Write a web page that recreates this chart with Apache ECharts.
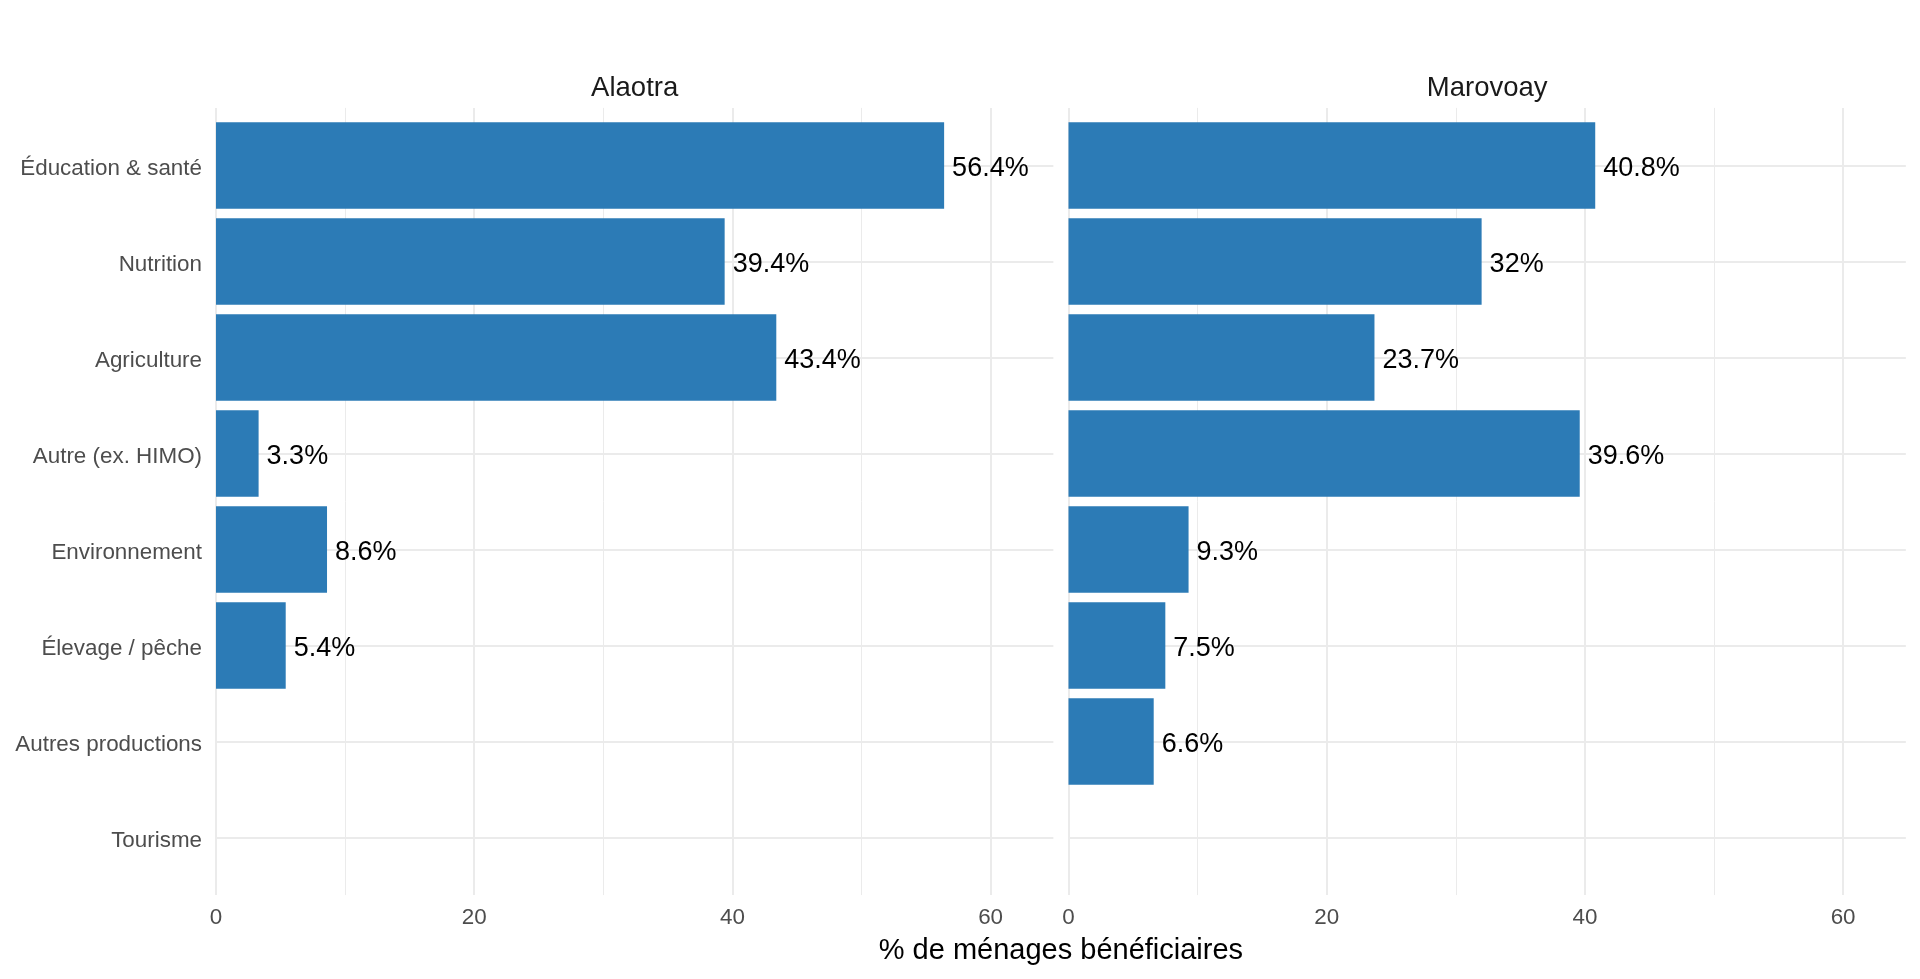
<!DOCTYPE html>
<html>
<head>
<meta charset="utf-8">
<script src="https://cdn.jsdelivr.net/npm/echarts@6/dist/echarts.min.js"></script>
<style>
html,body{margin:0;padding:0;background:#fff;}
#chart{width:1920px;height:979px;}
</style>
</head>
<body>
<div id="chart"></div>
<script>
// ---- Data ----
const categories = ['Éducation & santé','Nutrition','Agriculture','Autre (ex. HIMO)','Environnement','Élevage / pêche','Autres productions','Tourisme'];
const panelNames = ['Alaotra','Marovoay'];
const alaotraValues = [56.4, 39.4, 43.4, 3.3, 8.6, 5.4, null, null];
const marovoayValues = [40.8, 32, 23.7, 39.6, 9.3, 7.5, 6.6, null];
const xTicks = [0, 20, 40, 60];
const xAxisTitle = '% de ménages bénéficiaires';

// ---- Layout ----
const FONT = '"Liberation Sans", Arial, sans-serif';
const unitX = 12.91;          // px per percentage point
const xMax = 64.86;           // panel range (0 .. max*1.15)
const panelW = xMax * unitX;
const panelLeft = [216, 1068.5];
const catUnit = 96;           // px per category
const firstCenter = 165.5;
const nCat = categories.length;
const panelTop = firstCenter - 0.6 * catUnit;
const panelH = (nCat - 1 + 1.2) * catUnit;
const barColor = '#2c7bb6';
const gridColor = '#ebebeb';
const valuesByPanel = [alaotraValues, marovoayValues];

const grids = [], xAxes = [], yAxes = [], series = [], titles = [];

panelLeft.forEach((L, p) => {
  const base = grids.length;
  grids.push({left: L, top: firstCenter - catUnit / 2, width: panelW, height: nCat * catUnit, containLabel: false});
  grids.push({left: L, top: firstCenter, width: panelW, height: (nCat - 1) * catUnit, containLabel: false});
  grids.push({left: L, top: panelTop, width: 60 * unitX, height: panelH, containLabel: false});

  xAxes.push({gridIndex: base, type: 'value', min: 0, max: xMax, show: false});
  yAxes.push({gridIndex: base, type: 'category', data: categories, inverse: true, show: false});

  xAxes.push({gridIndex: base + 1, type: 'value', min: 0, max: 1, show: false});
  yAxes.push({
    gridIndex: base + 1, type: 'category', data: categories, inverse: true, boundaryGap: false,
    axisLine: {show: false}, axisTick: {show: false},
    axisLabel: {show: p === 0, interval: 0, margin: 14, fontSize: 22.4, color: '#4d4d4d', fontFamily: FONT,
      verticalAlign: 'top', lineHeight: 6},
    splitLine: {show: true, interval: 0, lineStyle: {color: gridColor, width: 2}}
  });

  xAxes.push({
    gridIndex: base + 2, type: 'value', min: xTicks[0], max: xTicks[xTicks.length - 1], interval: 20,
    axisLine: {show: false}, axisTick: {show: false},
    axisLabel: {show: true, margin: 12, fontSize: 22.4, color: '#4d4d4d', fontFamily: FONT},
    splitLine: {show: true, lineStyle: {color: gridColor, width: 2}},
    minorTick: {show: false, splitNumber: 2},
    minorSplitLine: {show: true, lineStyle: {color: gridColor, width: 1}}
  });
  yAxes.push({gridIndex: base + 2, type: 'value', min: 0, max: 1, show: false});

  series.push({
    type: 'bar', name: panelNames[p], xAxisIndex: base, yAxisIndex: base,
    data: valuesByPanel[p], barWidth: '90%',
    itemStyle: {color: barColor},
    label: {show: true, position: 'right', distance: 8, offset: [0, 3], fontSize: 27, color: '#000', fontFamily: FONT,
      formatter: (d) => d.value + '%'},
    emphasis: {disabled: true}, animation: false
  });

  titles.push({
    text: panelNames[p], left: L + panelW / 2, top: 88, padding: 0,
    textAlign: 'center', textVerticalAlign: 'middle',
    textStyle: {fontSize: 27.5, fontWeight: 'normal', color: '#1a1a1a', fontFamily: FONT}
  });
});

titles.push({
  text: xAxisTitle, left: (panelLeft[0] + panelLeft[1] + panelW) / 2, top: 951, padding: 0,
  textAlign: 'center', textVerticalAlign: 'middle',
  textStyle: {fontSize: 29, fontWeight: 'normal', color: '#000', fontFamily: FONT}
});

const chart = echarts.init(document.getElementById('chart'), null, {renderer: 'canvas'});
chart.setOption({
  animation: false,
  backgroundColor: '#fff',
  title: titles,
  grid: grids,
  xAxis: xAxes,
  yAxis: yAxes,
  series: series
});
</script>
</body>
</html>
